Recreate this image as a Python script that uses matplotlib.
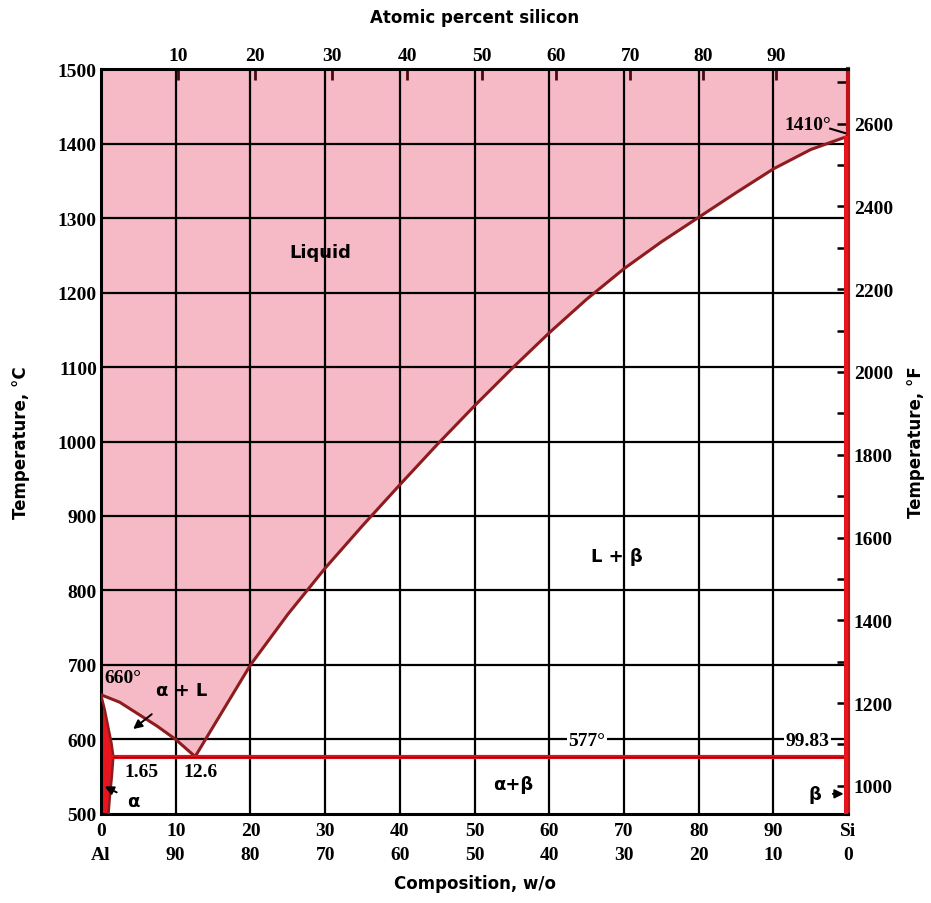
import numpy as np
import matplotlib.pyplot as plt
from matplotlib.ticker import MultipleLocator, FixedLocator

# Al-Si phase diagram
liq_al_wt = [0, 2.5, 5, 7.5, 10, 12.6]
liq_al_t = [660, 650, 634, 618, 600, 577]

liq_si_wt = [12.6, 15, 20, 25, 30, 35, 40, 45, 50, 55, 60, 65, 70, 75, 80, 85, 90, 95, 100]
liq_si_t = [577, 617, 700, 768, 830, 887, 942, 996, 1048, 1098, 1146, 1191, 1232, 1268,
            1301, 1334, 1366, 1392, 1410]

sol_wt = [0, 0.5, 1.0, 1.4, 1.65]
sol_t = [660, 640, 615, 595, 577]
solvus_wt = [1.65, 1.45, 1.2, 1.0]
solvus_t = [577, 550, 525, 500]

t_eut = 577
at_ticks = [10, 20, 30, 40, 50, 60, 70, 80, 90]
wt_ticks = [0, 10, 20, 30, 40, 50, 60, 70, 80, 90, 100]
wt_labels = ['0\nAl', '10\n90', '20\n80', '30\n70', '40\n60', '50\n50',
             '60\n40', '70\n30', '80\n20', '90\n10', 'Si\n0']
f_ticks = [1000, 1200, 1400, 1600, 1800, 2000, 2200, 2400, 2600]

M_AL, M_SI = 26.98, 28.086

def wt2at(w):
    w = np.clip(np.asarray(w, dtype=float), 1e-9, 100 - 1e-9)
    a = w / M_SI
    return 100 * a / (a + (100 - w) / M_AL)

def at2wt(a):
    a = np.clip(np.asarray(a, dtype=float), 1e-9, 100 - 1e-9)
    m = a * M_SI
    return 100 * m / (m + (100 - a) * M_AL)

num_font = dict(family='Liberation Serif', weight='bold', size=14)
lab_font = dict(family='DejaVu Sans', weight='bold', size=12)

fig = plt.figure(figsize=(9.31, 9.04), dpi=100)
ax = fig.add_axes([0.1085, 0.0985, 0.8025, 0.824])
ax.set_xlim(0, 100)
ax.set_ylim(500, 1500)

pink = '#F5BAC6'
# liquid region
fx = liq_al_wt + liq_si_wt[1:] + [100, 0]
fy = liq_al_t + liq_si_t[1:] + [1500, 1500]
ax.fill(fx, fy, color=pink, zorder=0, lw=0)

# alpha region
ax.fill(sol_wt + solvus_wt[1:] + [0], sol_t + solvus_t[1:] + [500],
        color='#E8141E', zorder=2, lw=0)
# beta strip
ax.fill_betweenx([500, 1410], 99.5, 100, color='#E8141E', zorder=4, lw=0)

for x in range(10, 100, 10):
    ax.axvline(x, color='black', lw=1.6, zorder=1)
for y in range(600, 1500, 100):
    ax.axhline(y, color='black', lw=1.6, zorder=1)

curve_c = '#8E1B1E'
ax.plot(liq_al_wt, liq_al_t, color=curve_c, lw=2.2, zorder=3)
ax.plot(liq_si_wt, liq_si_t, color=curve_c, lw=2.2, zorder=3)
ax.plot(sol_wt, sol_t, color=curve_c, lw=1.8, zorder=3)
ax.plot(solvus_wt, solvus_t, color=curve_c, lw=1.8, zorder=3)
ax.plot([sol_wt[-1], 100], [t_eut, t_eut], color='#E0101C', lw=3.0, zorder=3)
ax.plot([sol_wt[-1], 100], [t_eut, t_eut], color='#5a0a10', lw=0.8, zorder=3)

for s in ax.spines.values():
    s.set_linewidth(2.2)
ax.spines['right'].set_color('#C01018')
ax.spines['right'].set_linewidth(3)

ax.set_xticks(wt_ticks)
ax.set_xticklabels(wt_labels, fontdict=num_font, linespacing=1.5)
ax.set_yticks(range(500, 1501, 100))
ax.set_yticklabels([str(v) for v in range(500, 1501, 100)], fontdict=num_font)
ax.tick_params(axis='both', length=0, pad=6)
ax.tick_params(axis='y', pad=3)

ax.set_xlabel('Composition, w/o', fontdict=lab_font, labelpad=8)
ax.set_ylabel('Temperature, °C', fontdict=lab_font, labelpad=20)

# top axis: atomic percent
top = ax.secondary_xaxis('top', functions=(wt2at, at2wt))
top.xaxis.set_major_locator(FixedLocator(at_ticks))
top.tick_params(direction='in', length=8, width=2, color='#4a0a0e', pad=4)
top.set_xticklabels([str(v) for v in at_ticks], fontdict=num_font)
top.set_xlabel('Atomic percent silicon', fontdict=lab_font, labelpad=18)

# right axis: Fahrenheit
right = ax.secondary_yaxis('right', functions=(lambda c: c * 9 / 5 + 32,
                                                lambda f: (f - 32) * 5 / 9))
right.yaxis.set_minor_locator(MultipleLocator(100))
right.tick_params(which='both', direction='in', length=8, width=1.8, color='black', pad=4)
right.set_yticks(f_ticks)
right.set_yticklabels([str(v) for v in f_ticks], fontdict=num_font)
right.spines['right'].set_visible(False)
right.set_ylabel('Temperature, °F', fontdict=lab_font, labelpad=10)

# annotations
ax.text(29.3, 1254, 'Liquid', ha='center', va='center', fontsize=13, weight='bold', zorder=5)
ax.text(69, 846, 'L + β', ha='center', va='center', fontsize=13, weight='bold', zorder=5)
ax.text(55.2, 540, 'α+β', ha='center', va='center', fontsize=13, weight='bold', zorder=5)
ax.text(0.4, 683, '660°', ha='left', va='center', fontdict=num_font, zorder=5)
ax.annotate('α + L', xy=(4.3, 614), xytext=(10.8, 666), ha='center', va='center',
            fontsize=13, weight='bold', zorder=5,
            arrowprops=dict(arrowstyle='-|>', color='black', lw=1.4, shrinkA=14, shrinkB=0))
ax.text(5.4, 557, '1.65', ha='center', va='center', fontdict=num_font, zorder=5)
ax.text(13.3, 557, '12.6', ha='center', va='center', fontdict=num_font, zorder=5)
ax.annotate('α', xy=(0.5, 537), xytext=(4.3, 518), ha='center', va='center',
            fontsize=13, weight='bold', zorder=5,
            arrowprops=dict(arrowstyle='-|>', color='black', lw=1.4, shrinkA=6, shrinkB=0))
ax.annotate('β', xy=(99.4, 527), xytext=(95.6, 527), ha='center', va='center',
            fontsize=13, weight='bold', zorder=5,
            arrowprops=dict(arrowstyle='-|>', color='black', lw=1.4, shrinkA=6, shrinkB=0))
ax.text(65, 598, '577°', ha='center', va='center', fontdict=num_font, zorder=5,
        bbox=dict(facecolor='white', edgecolor='none', pad=1))
ax.text(94.6, 598, '99.83', ha='center', va='center', fontdict=num_font, zorder=5,
        bbox=dict(facecolor='white', edgecolor='none', pad=1))
ax.text(94.6, 1425, '1410°', ha='center', va='center', fontdict=num_font, zorder=5)
ax.plot([97.6, 99.6], [1420, 1414], color='black', lw=1.5, zorder=5)

fig.savefig('out.png', dpi=100)
